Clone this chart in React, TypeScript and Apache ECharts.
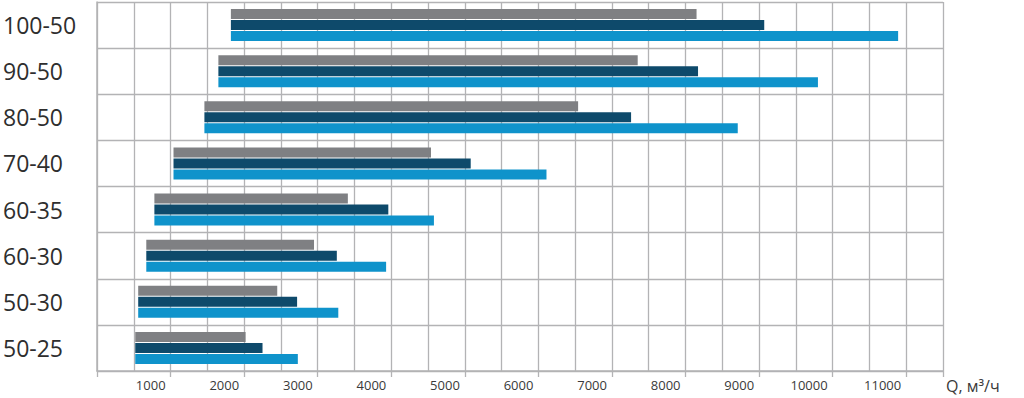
import React, { useEffect, useRef } from "react";
import * as echarts from "echarts";

const categories = ["50-25", "50-30", "60-30", "60-35", "70-40", "80-50", "90-50", "100-50"];
const starts = [520, 560, 670, 780, 1040, 1460, 1650, 1820];
const grayEnd = [2020, 2450, 2950, 3410, 4540, 6540, 7350, 8150];
const darkEnd = [2250, 2720, 3260, 3960, 5080, 7260, 8170, 9070];
const lightEnd = [2730, 3280, 3930, 4580, 6110, 8710, 9800, 10890];
const xMax = 11500;
const axisName = "Q, м³/ч";

const GRID = "#b3b3b5";
const FONT = "'Open Sans', 'Noto Sans', sans-serif";

function rangeSeries(name: string, ends: number[], color: string) {
  return [
    {
      name: name + "-base",
      type: "bar",
      stack: name,
      barWidth: 10,
      barGap: "10%",
      itemStyle: { color: "transparent" },
      silent: true,
      data: starts,
    },
    {
      name,
      type: "bar",
      stack: name,
      barWidth: 10,
      barGap: "10%",
      itemStyle: { color },
      data: ends.map((e, i) => e - starts[i]),
    },
  ];
}

export default function App() {
  const ref = useRef<HTMLDivElement>(null);
  useEffect(() => {
    const chart = echarts.init(ref.current!, null, { renderer: "svg" });
    chart.setOption({
      animation: false,
      grid: { left: 96, right: 81, top: 2, bottom: 27, containLabel: false },
      xAxis: [
        {
          type: "value",
          position: "bottom",
          min: 0,
          max: xMax,
          interval: 500,
          axisLine: { show: true, lineStyle: { color: GRID, width: 1.5 } },
          axisTick: { show: false },
          axisLabel: { show: false },
          splitLine: { show: true, lineStyle: { color: GRID, width: 1.3 } },
        },
        {
          type: "value",
          position: "bottom",
          min: 0,
          max: xMax,
          interval: 1000,
          axisLine: { show: false },
          axisTick: { show: true, inside: false, length: 6, lineStyle: { color: GRID, width: 1.3 } },
          splitLine: { show: false },
          axisLabel: {
            show: true,
            align: "right",
            margin: 7,
            padding: [0, 5, 0, 0],
            color: "#3a3a3a",
            fontSize: 13,
            fontFamily: FONT,
            formatter: (v: number) => (v === 0 || v > 11000 ? "" : String(v)),
          },
          name: axisName,
          nameLocation: "end",
          nameGap: 3,
          nameTextStyle: {
            color: "#3a3a3a",
            fontSize: 16,
            lineHeight: 18,
            fontFamily: FONT,
            align: "left",
            verticalAlign: "top",
            padding: [6, 0, 0, 0],
          },
        },
      ],
      yAxis: {
        type: "category",
        data: categories,
        axisLine: { show: true, lineStyle: { color: GRID, width: 1.5 } },
        axisTick: { show: false },
        splitLine: { show: true, lineStyle: { color: GRID, width: 1.3 } },
        axisLabel: {
          align: "left",
          margin: 94,
          color: "#2e2e2e",
          fontSize: 23,
          fontFamily: FONT,
        },
      },
      series: [
        ...rangeSeries("gray", grayEnd, "#7f8083"),
        ...rangeSeries("dark", darkEnd, "#0e4a6b"),
        ...rangeSeries("light", lightEnd, "#0f93cb"),
      ],
    });
    return () => chart.dispose();
  }, []);
  return (
    <div
      ref={ref}
      style={{ position: "fixed", left: 0, top: 0, width: 1024, height: 398, background: "#fff" }}
    />
  );
}
